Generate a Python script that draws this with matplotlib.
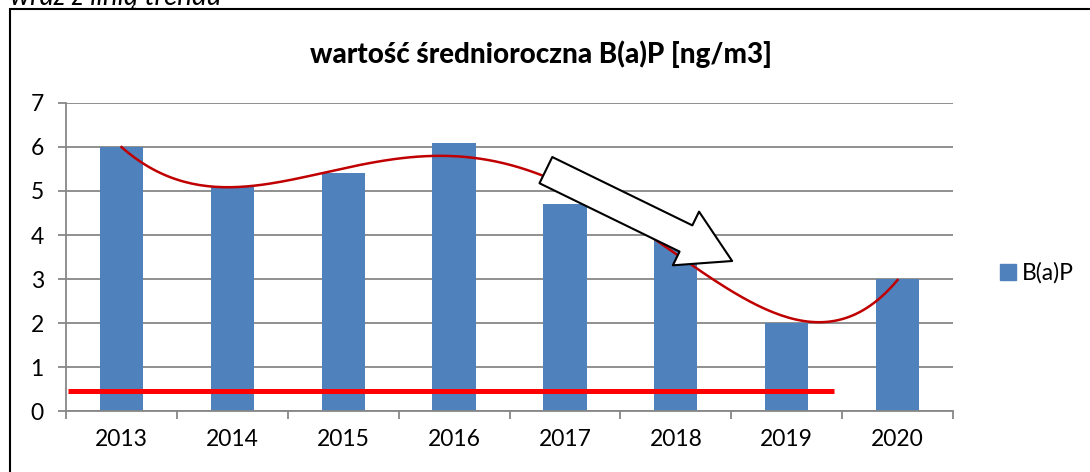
import numpy as np
from matplotlib import pyplot as plt
from matplotlib.lines import Line2D
from matplotlib.patches import Rectangle

plt.rcParams['font.family'] = ['Lato', 'DejaVu Sans']

# data
years = ["2013", "2014", "2015", "2016", "2017", "2018", "2019", "2020"]
bap = [6.0, 5.1, 5.4, 6.1, 4.7, 3.9, 2.0, 3.0]
limit_value = 0.45
limit_start = -0.48
limit_end = 6.43

bar_color = "#4F81BD"
grid_color = "#878787"

fig = plt.figure(figsize=(10.9, 4.72), dpi=100)
ax = fig.add_axes([0.0606, 0.1292, 0.8137, 0.6526])

x = np.arange(len(years))
ax.bar(x, bap, width=0.39, color=bar_color, zorder=2)

# polynomial trend line (like Excel)
coef = np.polyfit(x, bap, 5)
xs = np.linspace(x[0], x[-1], 200)
ax.plot(xs, np.polyval(coef, xs), color="#C00000", lw=1.8, zorder=3)

# limit line
ax.hlines(limit_value, limit_start, limit_end, color="#FF0000", lw=3.6, zorder=4)

ax.set_xlim(-0.5, len(years) - 0.5)
ax.set_ylim(0, 7)
ax.set_yticks(range(0, 8))
ax.set_xticks(x)
ax.set_xticklabels(years)
ax.set_xticks(np.arange(-0.5, len(years)), minor=True)
ax.tick_params(axis="x", which="major", length=0, pad=13, labelsize=16.5)
ax.tick_params(axis="x", which="minor", length=6, width=1.3, color=grid_color)
ax.tick_params(axis="y", length=6, width=1.3, color=grid_color, pad=10, labelsize=16.5)
ax.grid(axis="y", color=grid_color, lw=1.3, zorder=0)
for s in ["top", "right"]:
    ax.spines[s].set_visible(False)
for s in ["left", "bottom"]:
    ax.spines[s].set_color(grid_color)
    ax.spines[s].set_linewidth(1.3)

# trend arrow
ax.annotate("", xy=(0.751, 0.487), xytext=(0.541, 0.782), xycoords="axes fraction",
            arrowprops=dict(arrowstyle="simple,head_length=3.7,head_width=4.3,tail_width=2.1",
                            mutation_scale=10, fc="white", ec="black", lw=1.5,
                            shrinkA=0, shrinkB=0), zorder=5)

fig.text(0.496, 0.885, "wartość średnioroczna B(a)P [ng/m3]", ha="center", va="center",
         fontsize=20, fontweight="black")

handle = Line2D([], [], marker="s", ls="", color=bar_color, markersize=12)
fig.legend([handle], ["B(a)P"], loc="center left", bbox_to_anchor=(0.906, 0.421),
           frameon=False, fontsize=16.5, handletextpad=0.2, borderpad=0, handlelength=0.8)

# frame of the chart and cut caption above
fig.add_artist(Rectangle((9.5 / 1090, -0.1), 1.2, 1.1 - 9.5 / 472, transform=fig.transFigure,
                         fill=False, ec="black", lw=1.5))
fig.text(10 / 1090, 1 - 5 / 472, "wraz z linią trendu", fontsize=20, style="italic",
         va="baseline", ha="left")

fig.savefig("out.png", dpi=100)
